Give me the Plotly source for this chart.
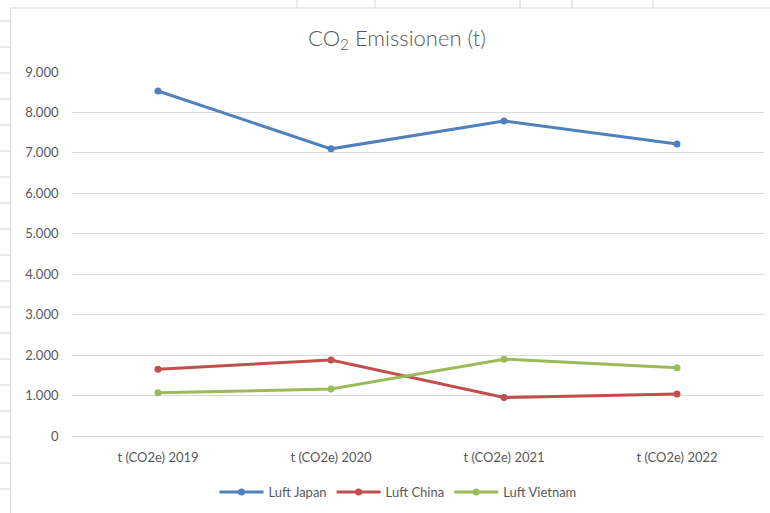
import plotly.graph_objects as go

categories = ["t (CO2e) 2019", "t (CO2e) 2020", "t (CO2e) 2021", "t (CO2e) 2022"]
japan = [8530, 7100, 7790, 7220]
china = [1650, 1880, 950, 1040]
vietnam = [1070, 1160, 1900, 1690]
series_names = ["Luft Japan", "Luft China", "Luft Vietnam"]
colors = ["#4F81BD", "#C0504D", "#9BBB59"]
y_ticks = [0, 1000, 2000, 3000, 4000, 5000, 6000, 7000, 8000, 9000]

W, H = 770, 513
def px(x): return x / W
def py(y): return 1 - y / H

fig = go.Figure()
for name, vals, col in zip(series_names, [japan, china, vietnam], colors):
    fig.add_trace(go.Scatter(
        x=categories, y=vals, name=name, mode="lines+markers",
        line=dict(color=col, width=3), marker=dict(color=col, size=7),
    ))

shapes = []
# spreadsheet cell lines outside chart
for yy in range(21, 513, 26):
    shapes.append(dict(type="line", xref="paper", yref="paper", x0=0, x1=px(10),
                       y0=py(yy), y1=py(yy), line=dict(color="#d4d4d4", width=1)))
for xx in [297, 375, 520, 572, 653]:
    shapes.append(dict(type="line", xref="paper", yref="paper", x0=px(xx), x1=px(xx),
                       y0=py(0), y1=py(8), line=dict(color="#d4d4d4", width=1)))
# chart border
shapes.append(dict(type="line", xref="paper", yref="paper", x0=px(10.5), x1=px(10.5),
                   y0=py(8), y1=py(513), line=dict(color="#d9d9d9", width=1)))
shapes.append(dict(type="line", xref="paper", yref="paper", x0=px(10.5), x1=px(770),
                   y0=py(8), y1=py(8), line=dict(color="#d9d9d9", width=1)))

fig.update_layout(
    width=W, height=H,
    margin=dict(l=0, r=0, t=0, b=0, autoexpand=False),
    paper_bgcolor="white", plot_bgcolor="white",
    separators=",.",
    font=dict(family="Lato, Open Sans, sans-serif", color="#595959", size=13),
    title=dict(text="CO<sub>2</sub> Emissionen (t)", x=px(397), xanchor="center",
               y=py(38), yanchor="middle",
               font=dict(family="Lato", size=22, color="#595959", weight=300)),
    xaxis=dict(domain=[px(71.5), px(763.5)], range=[-0.5, 3.5], automargin=False,
               showgrid=False, showline=False,
               zeroline=False, ticks="", ticklabelstandoff=12,
               tickfont=dict(size=13, color="#595959")),
    yaxis=dict(domain=[py(436), py(72)], range=[0, 9000], tickvals=y_ticks, automargin=False,
               tickformat=",d", showgrid=True, gridcolor="#d9d9d9", gridwidth=1,
               zeroline=True, zerolinecolor="#d9d9d9", zerolinewidth=1,
               showline=False, ticks="", ticklabelstandoff=12,
               tickfont=dict(size=13, color="#595959")),
    legend=dict(orientation="h", x=px(398), xanchor="center", y=py(492), yanchor="middle",
                font=dict(size=13, color="#595959"), itemwidth=44, bgcolor="rgba(0,0,0,0)"),
    shapes=shapes,
)

fig.write_html("out.html", config={"displayModeBar": False},
               post_script="document.body.style.margin='0';")
